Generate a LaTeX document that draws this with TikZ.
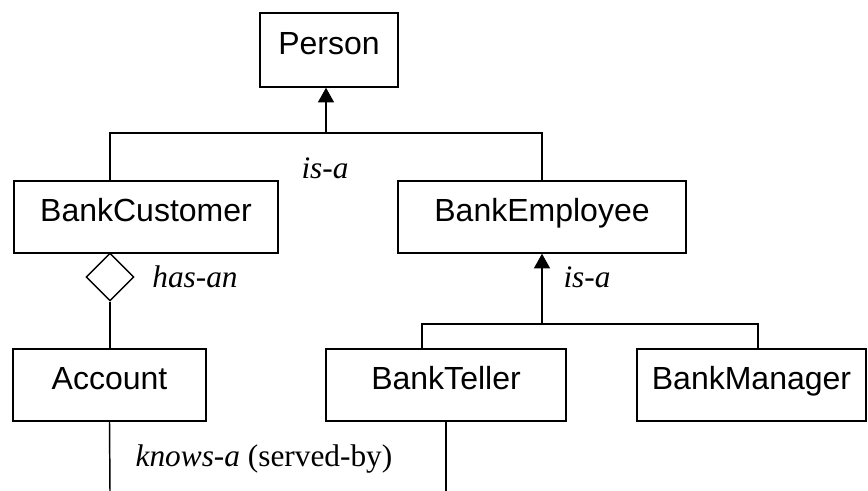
\documentclass[tikz,border=0pt]{standalone}
\usepackage{fontspec}
\setmainfont{Liberation Serif}
\setsansfont{Liberation Sans}
\usetikzlibrary{arrows.meta,shapes.geometric}

\tikzset{
  classbox/.style={draw, line width=1.1pt, font=\fontsize{24}{28}\selectfont\sffamily,
                   minimum height=54pt, inner sep=0pt, text height=17.2pt, text depth=10.5pt},
  relline/.style={line width=1.1pt},
  rellabel/.style={font=\fontsize{23.5}{28}\selectfont\itshape, inner sep=0pt},
}

\begin{document}
\begin{tikzpicture}[x=0.75pt, y=-0.75pt]

\useasboundingbox (0,0) rectangle (868,491);

% Classes
\node[classbox, minimum width=103.5pt, minimum height=55.5pt] (person) at (329,50) {Person};

\node[classbox, minimum width=198pt] (customer) at (146,217) {BankCustomer};
\node[classbox, minimum width=216pt] (employee) at (542,217) {BankEmployee};

\node[classbox, minimum width=145pt] (account) at (109.5,385) {Account};
\node[classbox, minimum width=180pt] (teller)  at (446,385)   {BankTeller};
\node[classbox, minimum width=172pt] (manager) at (751.5,385) {BankManager};

% Aggregation diamond
\node[draw, line width=1.1pt, diamond, inner sep=0pt, minimum width=36pt,
      minimum height=36pt] (hasan) at (110,277) {};

% ================================================================
% is-a : Person
% ================================================================
\coordinate (isaL) at (110,133);
\coordinate (isaM) at (326,133);
\coordinate (isaR) at (542,133);
\draw[relline] (customer.north -| isaL) -- (isaL) -- (isaR) -- (employee.north);
\draw[relline, -{Triangle[width=12pt, length=11pt]}] (isaM) -- (person.south -| isaM);
\node[rellabel] (isalabel) at (325,168) {is-a};

% ================================================================
% has-an : Account
% ================================================================
\draw[relline] (hasan.south) -- (account.north -| hasan.south);
\node[rellabel] (hasanlabel) at (195,277) {has-an};

% ================================================================
% is-a : BankEmployee
% ================================================================
\coordinate (subL) at (422,324);
\coordinate (subM) at (542,324);
\coordinate (subR) at (758,324);
\draw[relline] (teller.north -| subL) -- (subL) -- (subR) -- (manager.north -| subR);
\draw[relline, -{Triangle[width=12pt, length=11pt]}] (subM) -- (employee.south);
\node[rellabel] (sublabel) at (587,277) {is-a};

% ================================================================
% knows-a : Account -- BankTeller
% ================================================================
\coordinate (knowsL) at (110,491);
\coordinate (knowsR) at (446,491);
\draw[relline] (account.south) -- (knowsL);
\draw[relline] (teller.south) -- (knowsR);
\node[rellabel] (knowslabel) at (264,459) {knows-a \upshape(served-by)};

\end{tikzpicture}
\end{document}
